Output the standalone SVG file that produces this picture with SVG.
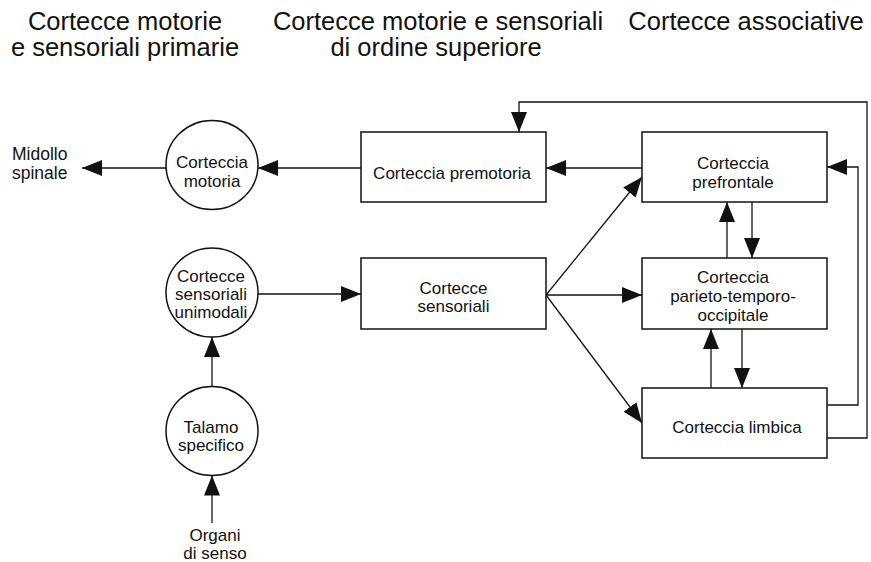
<svg xmlns="http://www.w3.org/2000/svg" width="871" height="562" viewBox="0 0 871 562">
<defs>
<marker id="ah" markerUnits="userSpaceOnUse" markerWidth="20" markerHeight="16" refX="20" refY="8" orient="auto">
<path d="M0,0 L20,8 L0,16 z" fill="#111"/>
</marker>
<style>
.t{font-family:"Liberation Sans",Arial,sans-serif;fill:#111;}
.title{font-size:25.5px;text-anchor:middle;}
.n{font-size:17px;text-anchor:middle;}
.box{fill:#fff;stroke:#111;stroke-width:1.5;}
.c{fill:none;stroke:#111;stroke-width:1.3;marker-end:url(#ah);}
</style>
</defs>
<rect width="871" height="562" fill="#fff"/>
<g id="titles">
<text class="t title" x="125" y="30">Cortecce motorie</text>
<text class="t title" x="125" y="56">e sensoriali primarie</text>
<text class="t title" x="438" y="30">Cortecce motorie e sensoriali</text>
<text class="t title" x="436" y="56">di ordine superiore</text>
<text class="t title" x="746" y="30">Cortecce associative</text>
</g>
<g id="connectors">
<line class="c" x1="166" y1="168" x2="82" y2="168"/>
<line class="c" x1="361" y1="168" x2="258" y2="168"/>
<line class="c" x1="642" y1="168" x2="546" y2="168"/>
<line class="c" x1="258" y1="294" x2="361" y2="294"/>
<line class="c" x1="212" y1="386.5" x2="212" y2="337"/>
<line class="c" x1="212" y1="523" x2="212" y2="475.5"/>
<line class="c" x1="546" y1="295" x2="642" y2="177"/>
<line class="c" x1="546" y1="295" x2="642" y2="295"/>
<line class="c" x1="546" y1="295" x2="642" y2="423"/>
<line class="c" x1="727" y1="258" x2="727" y2="202"/>
<line class="c" x1="752" y1="202" x2="752" y2="258"/>
<line class="c" x1="711" y1="388" x2="711" y2="329"/>
<line class="c" x1="742" y1="329" x2="742" y2="388"/>
<polyline class="c" points="827,405 858,405 858,167 827,167"/>
<polyline class="c" points="827,438 867,438 867,102 519,102 519,132"/>
</g>
<g id="midollo">
<text class="t" style="font-size:17.5px" x="12" y="160">Midollo</text>
<text class="t" style="font-size:17.5px" x="12" y="179">spinale</text>
</g>
<g id="organi">
<text class="t n" x="215" y="541">Organi</text>
<text class="t n" x="215" y="559">di senso</text>
</g>
<g id="corteccia-motoria">
<ellipse class="box" cx="212" cy="165" rx="46" ry="44.5"/>
<text class="t n" x="212" y="168">Corteccia</text>
<text class="t n" x="212" y="186.5">motoria</text>
</g>
<g id="cortecce-unimodali">
<ellipse class="box" cx="212" cy="292.5" rx="46" ry="44.5"/>
<text class="t n" x="211" y="282">Cortecce</text>
<text class="t n" x="211" y="300">sensoriali</text>
<text class="t n" x="211" y="318">unimodali</text>
</g>
<g id="talamo">
<ellipse class="box" cx="212" cy="431" rx="46" ry="44.5"/>
<text class="t n" x="211" y="433">Talamo</text>
<text class="t n" x="211" y="450.5">specifico</text>
</g>
<g id="premotoria">
<rect class="box" x="361" y="132" width="185" height="70"/>
<text class="t n" x="452" y="179">Corteccia premotoria</text>
</g>
<g id="prefrontale">
<rect class="box" x="642" y="132" width="185" height="70"/>
<text class="t n" x="733" y="169">Corteccia</text>
<text class="t n" x="733" y="187.5">prefrontale</text>
</g>
<g id="sensoriali">
<rect class="box" x="361" y="258" width="185" height="71"/>
<text class="t n" x="453.5" y="294">Cortecce</text>
<text class="t n" x="453.5" y="311.5">sensoriali</text>
</g>
<g id="pto">
<rect class="box" x="642" y="258" width="185" height="71"/>
<text class="t n" x="733" y="283">Corteccia</text>
<text class="t n" x="733" y="302">parieto-temporo-</text>
<text class="t n" x="733" y="320.5">occipitale</text>
</g>
<g id="limbica">
<rect class="box" x="642" y="388" width="185" height="70"/>
<text class="t n" x="737" y="433">Corteccia limbica</text>
</g>
</svg>
